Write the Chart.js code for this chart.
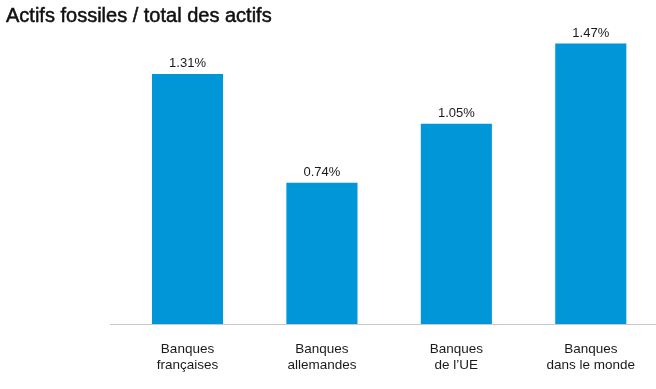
<!DOCTYPE html>
<html>
<head>
<meta charset="utf-8">
<script src="https://cdn.jsdelivr.net/npm/chart.js@4/dist/chart.umd.min.js"></script>
<style>
  html, body { margin: 0; padding: 0; background: #fff; overflow: hidden; }
  #wrap { position: relative; width: 658px; height: 389px; }
</style>
</head>
<body>
<div id="wrap"><canvas id="chart" width="658" height="389"></canvas></div>
<script>
const title = "Actifs fossiles / total des actifs";
const categories = [
  ["Banques", "françaises"],
  ["Banques", "allemandes"],
  ["Banques", "de l’UE"],
  ["Banques", "dans le monde"],
];
const shares = [1.31, 0.74, 1.05, 1.47];

const FONT = "'Liberation Sans', Arial, Helvetica, sans-serif";
const blue = "#0096d8";

// title, baseline and the % labels on top of the bars
const extras = {
  id: "extras",
  afterDraw(chart) {
    const ctx = chart.ctx;
    const area = chart.chartArea;
    ctx.save();
    ctx.fillStyle = "#111";
    ctx.strokeStyle = "#111";
    ctx.lineWidth = 0.5;
    ctx.font = "20px " + FONT;
    ctx.textAlign = "left";
    ctx.textBaseline = "alphabetic";
    ctx.fillText(title, 6, 22);
    ctx.strokeText(title, 6, 22);

    ctx.strokeStyle = "#c8c8c8";
    ctx.lineWidth = 1;
    ctx.beginPath();
    ctx.moveTo(110, Math.round(area.bottom) + 0.5);
    ctx.lineTo(656, Math.round(area.bottom) + 0.5);
    ctx.stroke();

    ctx.font = "13px " + FONT;
    ctx.fillStyle = "#1a1a1a";
    ctx.textAlign = "center";
    ctx.textBaseline = "alphabetic";
    chart.getDatasetMeta(0).data.forEach((bar, i) => {
      ctx.fillText(shares[i].toFixed(2) + "%", bar.x, bar.y - 7);
    });
    ctx.restore();
  },
};

new Chart(document.getElementById("chart"), {
  type: "bar",
  data: {
    labels: categories,
    datasets: [
      {
        data: shares,
        backgroundColor: blue,
        borderWidth: 0,
        categoryPercentage: 1,
        barPercentage: 0.529,
      },
    ],
  },
  options: {
    responsive: false,
    animation: false,
    layout: { padding: { top: 18.7, right: 0, left: 0, bottom: 0 } },
    plugins: {
      legend: { display: false },
      tooltip: { enabled: false },
    },
    scales: {
      x: {
        grid: { display: false },
        border: { display: false },
        ticks: {
          color: "#1a1a1a",
          font: { family: FONT, size: 13.5, lineHeight: 1.19 },
          padding: 9,
          maxRotation: 0,
        },
        afterFit(scale) {
          scale.height = 65;
        },
      },
      y: {
        min: 0,
        max: 1.6,
        grid: { display: false },
        border: { display: false },
        ticks: { display: false },
        afterFit(scale) {
          scale.width = 120.3;
        },
      },
    },
  },
  plugins: [extras],
});
</script>
</body>
</html>
